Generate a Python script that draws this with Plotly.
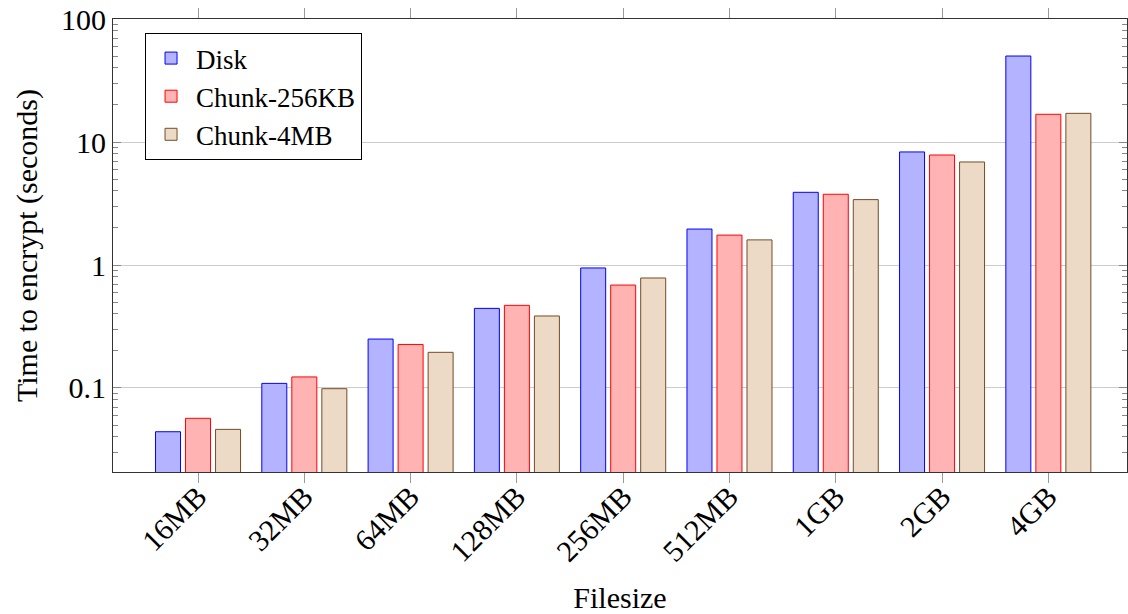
import plotly.graph_objects as go

categories = ["16MB", "32MB", "64MB", "128MB", "256MB", "512MB", "1GB", "2GB", "4GB"]
disk = [0.0441, 0.109, 0.25, 0.444, 0.946, 1.96, 3.9, 8.3, 50.0]
chunk_256kb = [0.0567, 0.123, 0.226, 0.47, 0.687, 1.75, 3.76, 7.84, 16.8]
chunk_4mb = [0.0461, 0.0987, 0.195, 0.385, 0.784, 1.6, 3.4, 6.88, 17.1]

series = [
    ("Disk", disk, "rgb(179,179,255)", "rgb(0,0,255)"),
    ("Chunk-256KB", chunk_256kb, "rgb(255,179,179)", "rgb(255,0,0)"),
    ("Chunk-4MB", chunk_4mb, "rgb(236,217,198)", "rgb(115,77,38)"),
]

FONT = "Liberation Serif"

fig = go.Figure()
for name, vals, fill, line in series:
    fig.add_trace(go.Bar(
        name=name, x=list(range(len(categories))), y=vals,
        marker=dict(color=fill, line=dict(color=line, width=1)),
    ))

fig.update_layout(
    width=1128, height=614,
    margin=dict(l=113, r=1, t=19, b=142),
    paper_bgcolor="white", plot_bgcolor="white",
    barmode="group", bargap=0.153, bargroupgap=0.167,
    font=dict(family=FONT, size=27, color="black"),
    showlegend=True,
    legend=dict(
        x=0.0316, y=0.969, xanchor="left", yanchor="top",
        bordercolor="black", borderwidth=1, bgcolor="white",
        font=dict(family=FONT, size=27),
        tracegroupgap=0, itemwidth=40,
    ),
)

fig.update_xaxes(
    range=[-0.8, 8.74], automargin=False,
    tickmode="array", tickvals=list(range(len(categories))), ticktext=categories,
    tickangle=-45, ticks="outside", ticklen=10, tickcolor="#999999",
    ticklabelstandoff=-16,
    showline=True, linecolor="#333333", linewidth=1, mirror="ticks",
    showgrid=False, zeroline=False,
    tickfont=dict(family=FONT, size=30),
    title=dict(text="Filesize", font=dict(family=FONT, size=30), standoff=20),
)

fig.update_yaxes(
    type="log", range=[-1.683, 2], automargin=False,
    tickmode="array", tickvals=[0.1, 1, 10, 100], ticktext=["0.1", "1", "10", "100"],
    ticks="inside", ticklen=8, tickcolor="#888888",
    showline=True, linecolor="#333333", linewidth=1, mirror="ticks",
    showgrid=True, gridcolor="#cccccc", gridwidth=1,
    minor=dict(ticks="inside", ticklen=5, tickcolor="#888888",
               tickvals=[v * m for v in [0.01, 0.1, 1, 10] for m in range(2, 10)],
               showgrid=False),
    zeroline=False,
    tickfont=dict(family=FONT, size=30),
    title=dict(text="Time to encrypt (seconds)", font=dict(family=FONT, size=30), standoff=14),
)

fig.write_html("out.html")
